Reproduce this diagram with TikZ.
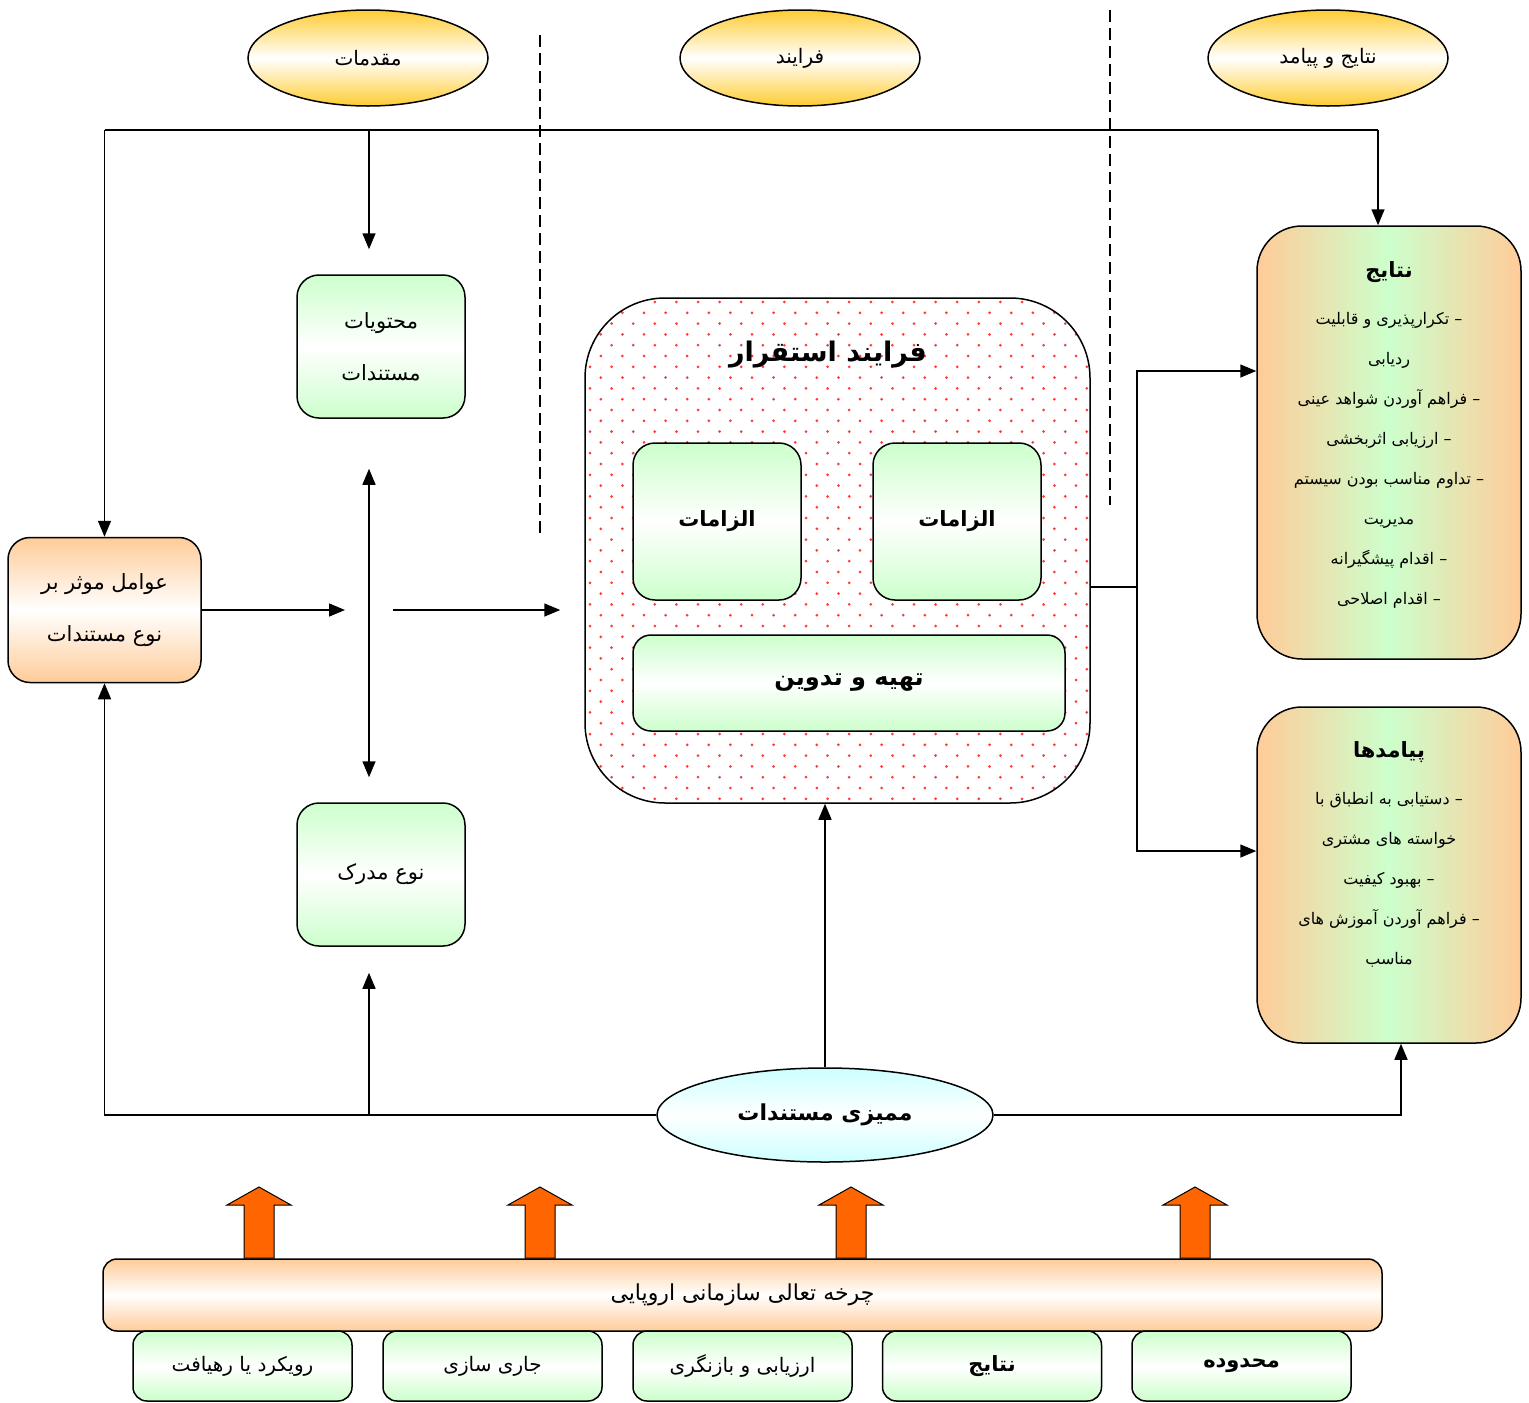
\documentclass[tikz,border=0pt]{standalone}
\usepackage{fontspec}
\usetikzlibrary{shapes.geometric,arrows.meta}
\newfontfamily\persianfont[Script=Arabic]{DejaVu Sans}
\TeXXeTstate=1
\newcommand{\rtx}[1]{\beginR #1\endR}
\definecolor{Gold}{HTML}{FFCC33}
\definecolor{Peach}{HTML}{FFCC99}
\definecolor{Mint}{HTML}{CCFFCC}
\definecolor{Aqua}{HTML}{CCFFFF}
\definecolor{Flame}{HTML}{FF6600}
\definecolor{DotRed}{HTML}{FF3B3B}

\begin{document}
\begin{tikzpicture}[x=1pt,y=-1pt,every node/.style={font=\persianfont},
  conn/.style={line width=1.5pt},
  arr/.style={conn,-{Triangle[length=16pt,width=13pt]}},
  darr/.style={conn,{Triangle[length=16pt,width=13pt]}-{Triangle[length=16pt,width=13pt]}},
  head/.style={ellipse,draw,line width=1.5pt,inner sep=0pt,minimum width=240pt,minimum height=96pt,top color=Gold,bottom color=Gold,middle color=white,font=\persianfont\fontsize{20}{24}\selectfont},
  greenbox/.style={draw,line width=1.5pt,rounded corners=22pt,inner sep=0pt,align=center,top color=Mint,bottom color=Mint,middle color=white,font=\persianfont\fontsize{21}{52}\selectfont},
  peachbox/.style={draw,line width=1.5pt,rounded corners=22pt,inner sep=0pt,align=center,top color=Peach,bottom color=Peach,middle color=white,font=\persianfont\fontsize{21}{52}\selectfont},
  sidebox/.style={draw,line width=1.5pt,rounded corners=45pt,minimum width=264pt,left color=Peach,right color=Peach,middle color=Mint},
  sidettl/.style={font=\persianfont\bfseries\fontsize{21}{24}\selectfont},
  listtxt/.style={align=center,font=\persianfont\fontsize{16}{40}\selectfont},
  boldtxt/.style={font=\persianfont\bfseries\fontsize{22}{28}\selectfont},
  footbox/.style={draw,line width=1.5pt,rounded corners=14pt,inner sep=0pt,minimum width=219pt,minimum height=70pt,top color=Mint,bottom color=Mint,middle color=white,font=\persianfont\fontsize{20}{24}\selectfont}]
\useasboundingbox[fill=white] (0,0) rectangle (1529,1403);
\node[head] (moqadamat) at (368,58) {\rtx{مقدمات}};
\node[head] (farayand) at (800,58) {\rtx{فرایند}};
\node[head] (natpay) at (1328,58) {\rtx{نتایج و پیامد}};
\draw[line width=1.2pt,dash pattern=on 12pt off 6pt] (540,35) -- (540,533);
\draw[line width=1.2pt,dash pattern=on 12pt off 6pt] (1110,10) -- (1110,505);
\node[peachbox,minimum width=193pt,minimum height=145pt] (awamel) at (104.5,610) {\rtx{عوامل موثر بر}\\\rtx{نوع مستندات}};
\node[greenbox,minimum width=168pt,minimum height=143pt] (moh) at (381,346.5) {\rtx{محتویات}\\\rtx{مستندات}};
\node[greenbox,minimum width=168pt,minimum height=143pt] (noe) at (381,874.5) {\rtx{نوع مدرک}};
\node[draw,line width=1.5pt,rounded corners=80pt,fill=white,minimum width=505pt,minimum height=505pt,
  path picture={\foreach \r in {0,...,47}{\foreach \c in {0,...,23}{
    \fill[DotRed] ([xshift={\c*21.6pt+mod(\r,2)*10.8pt+5pt},yshift={-\r*10.8pt-4pt}]path picture bounding box.north west) circle (1.5pt);}}}] (proc) at (837.5,550.5) {};
\node[font=\persianfont\bfseries\fontsize{27}{32}\selectfont] (proctitle) at (828,355) {\rtx{فرایند استقرار}};
\node[greenbox,minimum width=168pt,minimum height=157pt,font=\persianfont\bfseries\fontsize{21}{26}\selectfont] (elzam1) at (717,521.5) {\rtx{الزامات}};
\node[greenbox,minimum width=168pt,minimum height=157pt,font=\persianfont\bfseries\fontsize{21}{26}\selectfont] (elzam2) at (957,521.5) {\rtx{الزامات}};
\node[greenbox,rounded corners=18pt,minimum width=432pt,minimum height=96pt,font=\persianfont\bfseries\fontsize{24}{30}\selectfont] (tahie) at (849,683) {\rtx{تهیه و تدوین}};
\node[sidebox,minimum height=433pt] (natayej) at (1389,442.5) {};
\node[sidettl] (natayejttl) at (1389,272) {\rtx{نتایج}};
\node[listtxt] (natayejlst) at (1389,460) {\rtx{– تکرارپذیری و قابلیت}\\\rtx{ردیابی}\\\rtx{– فراهم آوردن شواهد عینی}\\\rtx{– ارزیابی اثربخشی}\\\rtx{– تداوم مناسب بودن سیستم}\\\rtx{مدیریت}\\\rtx{– اقدام پیشگیرانه}\\\rtx{– اقدام اصلاحی}};
\node[sidebox,minimum height=336pt] (payamad) at (1389,875) {};
\node[sidettl] (payamadttl) at (1389,752) {\rtx{پیامدها}};
\node[listtxt] (payamadlst) at (1389,880) {\rtx{– دستیابی به انطباق با}\\\rtx{خواسته های مشتری}\\\rtx{– بهبود کیفیت}\\\rtx{– فراهم آوردن آموزش های}\\\rtx{مناسب}};
\node[ellipse,draw,line width=1.5pt,inner sep=0pt,minimum width=336pt,minimum height=94pt,top color=Aqua,bottom color=Aqua,middle color=white,boldtxt] (mamizi) at (825,1115) {\rtx{ممیزی مستندات}};
\coordinate (t1) at (104.5,130); \coordinate (t2) at (369,130); \coordinate (t3) at (1378,130);
\coordinate (m1) at (369,610); \coordinate (c1) at (369,1115); \coordinate (b1) at (1401,1115);
\coordinate (r1) at (1137,587); \coordinate (r2) at (1137,371); \coordinate (r3) at (1137,851);
\draw[conn] (t1) -- (t3);
\draw[arr] (t1) -- (awamel.north);
\draw[arr,shorten >=25pt] (t2) -- (t2 |- moh.north);
\draw[arr] (t3) -- (t3 |- natayej.north);
\draw[arr,shorten >=24pt] (awamel.east) -- (m1);
\draw[arr,shorten <=24pt,shorten >=24pt] (m1) -- (m1 -| proc.west);
\draw[darr,shorten <=50pt,shorten >=25pt] (m1 |- moh.south) -- (m1 |- noe.north);
\draw[conn] (r1 -| proc.east) -- (r1);
\draw[arr] (r1) -- (r2) -- (r2 -| natayej.west);
\draw[arr] (r1) -- (r3) -- (r3 -| payamad.west);
\draw[arr] (mamizi.west) -| (awamel.south);
\draw[arr,shorten >=26pt] (c1) -- (c1 |- noe.south);
\draw[arr] (mamizi.north) -- (mamizi.north |- proc.south);
\draw[arr] (mamizi.east) -- (b1) -- (b1 |- payamad.south);
\foreach \bx in {259,540,851,1195}
  \filldraw[fill=Flame,line width=1pt] (\bx-15,1258) -- (\bx-15,1205) -- (\bx-32,1205) -- (\bx,1187) -- (\bx+32,1205) -- (\bx+15,1205) -- (\bx+15,1258) -- cycle;
\node[draw,line width=1.5pt,rounded corners=14pt,minimum width=1279pt,minimum height=72pt,top color=Peach,bottom color=Peach,middle color=white,font=\persianfont\fontsize{22}{26}\selectfont] (charkhe) at (742.5,1295) {\rtx{چرخه تعالی سازمانی اروپایی}};
\node[footbox] (ruykard) at (242.5,1366) {\rtx{رویکرد یا رهیافت}};
\node[footbox] (jari) at (492.5,1366) {\rtx{جاری سازی}};
\node[footbox] (arzyabi) at (742.5,1366) {\rtx{ارزیابی و بازنگری}};
\node[footbox,font=\persianfont\bfseries\fontsize{21}{24}\selectfont] (natayejb) at (992,1366) {\rtx{نتایج}};
\node[footbox,font=\persianfont\bfseries\fontsize{21}{24}\selectfont] (mahdude) at (1241.5,1366) {\rtx{محدوده}};
\end{tikzpicture}
\end{document}
